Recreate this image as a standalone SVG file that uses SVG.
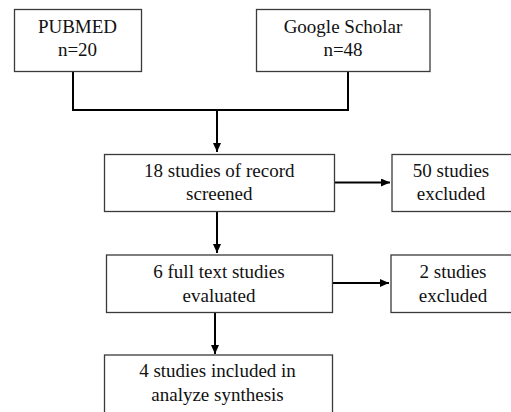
<svg xmlns="http://www.w3.org/2000/svg" width="511" height="412" viewBox="0 0 511 412">
<style>
.box{fill:#ffffff;stroke:#3a3a3a;stroke-width:1.3}
.t{font-family:'Liberation Serif','Times New Roman',Tinos,'DejaVu Serif',serif;font-size:19px;fill:#111111;text-anchor:middle}
.c{fill:none;stroke:#000000;stroke-width:2}
</style>
<defs>
<marker id="ah" markerUnits="userSpaceOnUse" markerWidth="10" markerHeight="9" refX="9" refY="4" orient="auto">
<path d="M0,0 L9,4 L0,8 z" fill="#000000"/>
</marker>
</defs>
<rect width="511" height="412" fill="#ffffff"/>
<g id="connectors">
<path class="c" d="M73,72 V110 H348 V72"/>
<path class="c" d="M217,110 V152" marker-end="url(#ah)"/>
<path class="c" d="M335,182.5 H390" marker-end="url(#ah)"/>
<path class="c" d="M217,212 V253" marker-end="url(#ah)"/>
<path class="c" d="M332,283 H389" marker-end="url(#ah)"/>
<path class="c" d="M215,312.5 V354" marker-end="url(#ah)"/>
</g>
<g id="pubmed">
<rect class="box" x="14.5" y="9.5" width="127" height="62"/>
<text class="t" x="77.5" y="33.3">PUBMED</text>
<text class="t" x="77.5" y="55.5">n=20</text>
</g>
<g id="google">
<rect class="box" x="256.5" y="9.5" width="173.5" height="62"/>
<text class="t" x="343" y="33.3">Google Scholar</text>
<text class="t" x="343" y="55.8">n=48</text>
</g>
<g id="screened">
<rect class="box" x="104.5" y="154.5" width="230" height="57"/>
<text class="t" x="219.3" y="177.3">18 studies of record</text>
<text class="t" x="219.3" y="200">screened</text>
</g>
<g id="excluded50">
<rect class="box" x="392" y="154.5" width="130" height="57"/>
<text class="t" x="451" y="177.3">50 studies</text>
<text class="t" x="451" y="200">excluded</text>
</g>
<g id="fulltext">
<rect class="box" x="106.5" y="255" width="226" height="57.5"/>
<text class="t" x="219" y="278.3">6 full text studies</text>
<text class="t" x="219" y="301.5">evaluated</text>
</g>
<g id="excluded2">
<rect class="box" x="391" y="255" width="130" height="57.5"/>
<text class="t" x="453" y="278.3">2 studies</text>
<text class="t" x="453" y="301.5">excluded</text>
</g>
<g id="included">
<rect class="box" x="104.5" y="355" width="228" height="62"/>
<text class="t" x="217.5" y="377.3">4 studies included in</text>
<text class="t" x="217.5" y="401.3">analyze synthesis</text>
</g>
</svg>
